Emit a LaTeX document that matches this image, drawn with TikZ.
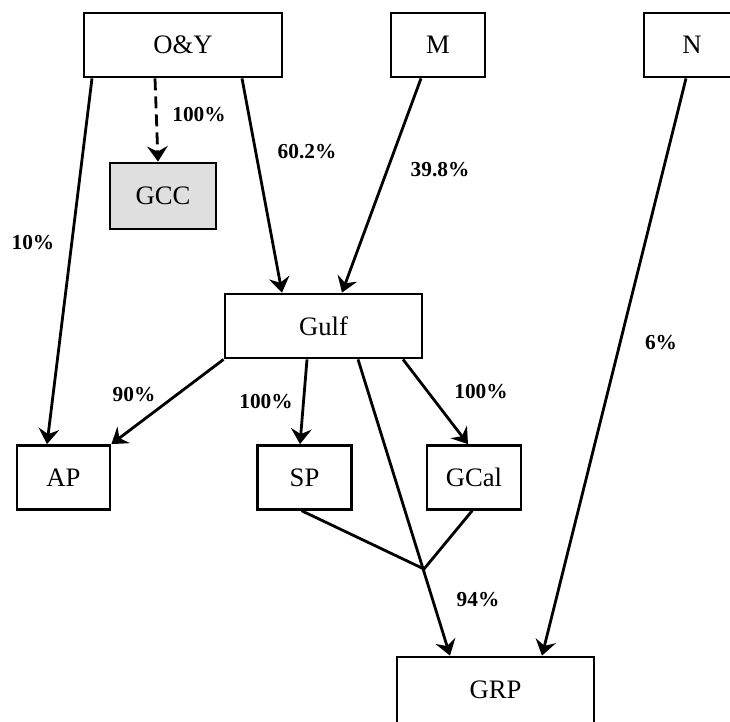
\documentclass[tikz,border=0pt]{standalone}
\usepackage{fontspec}
\setmainfont{Liberation Serif}
\usetikzlibrary{arrows.meta}

\begin{document}
\begin{tikzpicture}[x=0.75pt,y=-0.75pt,
  line width=2.1pt,
  box/.style={draw, rectangle, inner sep=0pt, minimum width=#1*0.75pt,
    minimum height=48pt, font=\fontsize{20}{22}\selectfont},
  box/.default=94,
  pct/.style={inner sep=0pt, font=\fontsize{16}{18}\selectfont\bfseries},
  link/.style={-{Stealth[length=11.5pt,width=15.5pt,inset=4pt]}},
  plain/.style={line cap=round}]

\path[use as bounding box, clip] (0,0) rectangle (730,721);

% companies
\node[box=198] (oy)   at (183,45)     {O\&Y};
\node[box]     (m)    at (438,45)     {M};
\node[box=96]  (n)    at (692,45)     {N};
\node[box=106, minimum height=49.5pt, fill=gray!25] (gcc) at (163,196) {GCC};
\node[box=197] (gulf) at (323.5,326)  {Gulf};
\node[box=93]  (ap)   at (63.5,477.5) {AP};
\node[box]     (sp)   at (304.5,477.5){SP};
\node[box]     (gcal) at (474,477.5)  {GCal};
\node[box=197, minimum height=49.5pt] (grp) at (495.5,690) {GRP};

% where the SP and GCal lines join the Gulf holding
\coordinate (j) at (424,569);

% ownership links
\draw[link] ([shift={(-91,0)}]oy.south) -- ([shift={(-16.5,0)}]ap.north);
\draw[link, dash pattern=on 9pt off 4.5pt] ([shift={(-28,0)}]oy.south) -- ([shift={(-5,0)}]gcc.north);
\draw[link] ([shift={(59,0)}]oy.south) -- ([shift={(-41.5,0)}]gulf.north);
\draw[link] ([shift={(-17,0)}]m.south) -- ([shift={(18.5,0)}]gulf.north);
\draw[link] ([shift={(-6,0)}]n.south) -- ([shift={(46.5,0)}]grp.north);
\draw[link] (gulf.south west) -- (ap.north east);
\draw[link] ([shift={(-16.5,0)}]gulf.south) -- ([shift={(-4.5,0)}]sp.north);
\draw[link] ([shift={(79.5,0)}]gulf.south) -- ([shift={(-6,0)}]gcal.north);
\draw[link] ([shift={(34.5,0)}]gulf.south) -- ([shift={(-45.5,0)}]grp.north);
\draw[plain] ([shift={(-2.5,0)}]sp.south) -- (j);
\draw[plain] ([shift={(-2,0)}]gcal.south) -- (j);

% shares
\node[pct] (p1)  at (199,115) {100\%};
\node[pct] (p2)  at (307,152) {60.2\%};
\node[pct] (p3)  at (440,170) {39.8\%};
\node[pct] (p4)  at (33,243)  {10\%};
\node[pct] (p5)  at (134,395) {90\%};
\node[pct] (p6)  at (266,402) {100\%};
\node[pct] (p7)  at (481,392) {100\%};
\node[pct] (p8)  at (661,343) {6\%};
\node[pct] (p9)  at (478,600) {94\%};
\end{tikzpicture}
\end{document}
